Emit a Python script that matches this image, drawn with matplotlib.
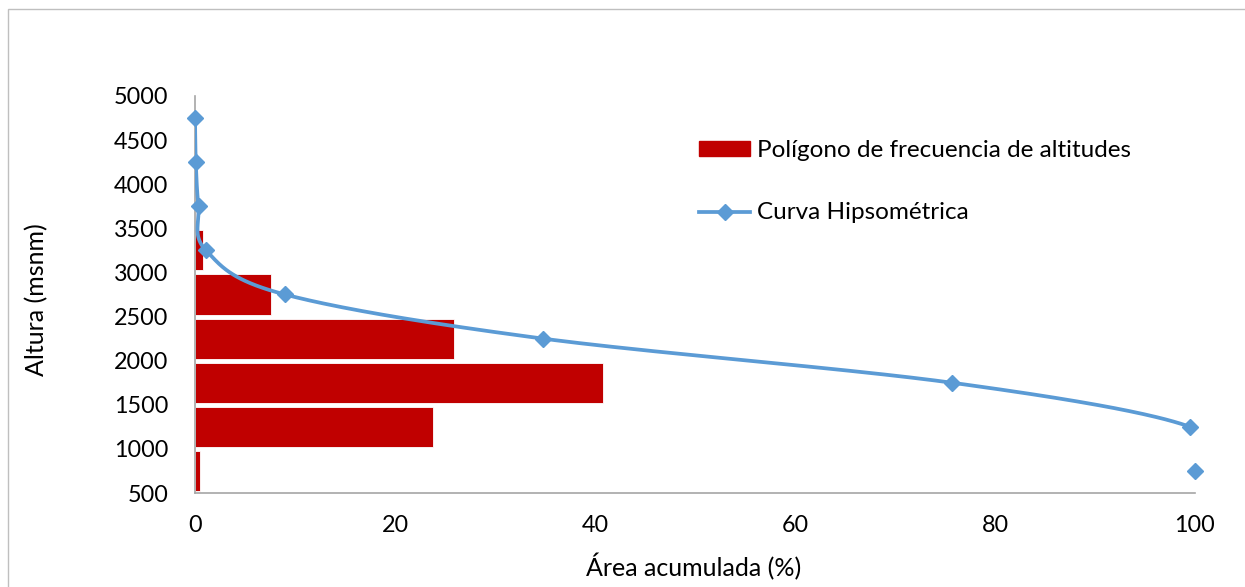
import numpy as np
import matplotlib
matplotlib.use("Agg")
import matplotlib.pyplot as plt
from matplotlib.patches import Rectangle, Patch
from matplotlib.lines import Line2D

# Altitude classes (class centre, msnm)
altitudes = [750, 1250, 1750, 2250, 2750, 3250, 3750, 4250, 4750]
# Percentage of basin area in each altitude class
area_pct = [0.45, 23.8, 40.8, 25.9, 7.6, 0.8, 0.1, 0.03, 0.02]
# Cumulative area above each altitude (%)
cum_area = [100.0, 99.5, 75.7, 34.8, 9.0, 1.1, 0.35, 0.08, 0.0]

x_ticks = [0, 20, 40, 60, 80, 100]
y_ticks = [500, 1000, 1500, 2000, 2500, 3000, 3500, 4000, 4500, 5000]

BAR_RED = "#C00000"
LINE_BLUE = "#5B9BD5"
AXIS_GREY = "#A6A6A6"
FONT = "Lato"
TICK_SIZE = 16.8
TEXT_SIZE = 18.0

fig = plt.figure(figsize=(12.45, 5.87), dpi=100)
W, H = 1245, 587
ax = fig.add_axes([195 / W, 1 - 493 / H, 1000 / W, 397 / H])

# Outer chart frame
fig.patches.append(Rectangle((8 / W, -0.05), 1.2, 1 - 9 / H + 0.05,
                             transform=fig.transFigure, fill=False,
                             edgecolor="#BFBFBF", linewidth=1.0, zorder=0))

# Frequency bars
ax.barh(altitudes, area_pct, height=455, left=0, color=BAR_RED,
        edgecolor="white", linewidth=0.6, zorder=2)


def smooth_curve(xs, ys, sx, sy, n=60):
    """Cubic Bezier smoothing (Catmull-Rom style) evaluated in scaled space."""
    P = np.column_stack([np.asarray(xs) * sx, np.asarray(ys) * sy])
    P = np.vstack([P[0], P, P[-1]])
    out = []
    for i in range(1, len(P) - 2):
        p0, p1, p2, p3 = P[i - 1], P[i], P[i + 1], P[i + 2]
        c1 = p1 + (p2 - p0) / 6.0
        c2 = p2 - (p3 - p1) / 6.0
        t = np.linspace(0, 1, n)[:, None]
        seg = ((1 - t) ** 3) * p1 + 3 * ((1 - t) ** 2) * t * c1 \
            + 3 * (1 - t) * t ** 2 * c2 + t ** 3 * p2
        out.append(seg)
    out = np.vstack(out)
    return out[:, 0] / sx, out[:, 1] / sy


sx = 1000 / 100.0
sy = 397 / 4500.0
cx, cy = smooth_curve(cum_area, altitudes, sx, sy)
ax.plot(cx, cy, color=LINE_BLUE, linewidth=2.7, zorder=3,
        solid_capstyle="round")
ax.plot(cum_area, altitudes, linestyle="none", marker="D", markersize=8.5,
        color=LINE_BLUE, zorder=4, clip_on=False)

ax.set_xlim(0, 100)
ax.set_ylim(500, 5000)
ax.set_xticks(x_ticks)
ax.set_yticks(y_ticks)
ax.tick_params(length=0, labelsize=TICK_SIZE, labelcolor="black")
ax.tick_params(axis="y", pad=19)
ax.tick_params(axis="x", pad=16)
for lab in ax.get_xticklabels() + ax.get_yticklabels():
    lab.set_fontfamily(FONT)
for side in ("top", "right"):
    ax.spines[side].set_visible(False)
for side in ("left", "bottom"):
    ax.spines[side].set_color(AXIS_GREY)
    ax.spines[side].set_linewidth(1.2)

fig.text(37 / W, 1 - 300 / H, "Altura (msnm)", rotation=90, ha="center",
         va="center", fontsize=TEXT_SIZE, family=FONT)
fig.text(694 / W, 1 - 567 / H, "Área acumulada (%)", ha="center",
         va="center", fontsize=TEXT_SIZE, family=FONT)

handles = [Patch(facecolor=BAR_RED, edgecolor=BAR_RED),
           Line2D([0], [0], color=LINE_BLUE, linewidth=2.7, marker="D",
                  markersize=8.5)]
labels = ["Polígono de frecuencia de altitudes", "Curva Hipsométrica"]
fig.legend(handles, labels, loc="upper left",
           bbox_to_anchor=(687 / W, 1 - 128 / H), frameon=False,
           prop={"family": FONT, "size": 17.5}, handlelength=2.1,
           handleheight=0.55, handletextpad=0.28, labelspacing=1.7,
           borderpad=0)

fig.savefig("out.png", dpi=100, facecolor="white")
